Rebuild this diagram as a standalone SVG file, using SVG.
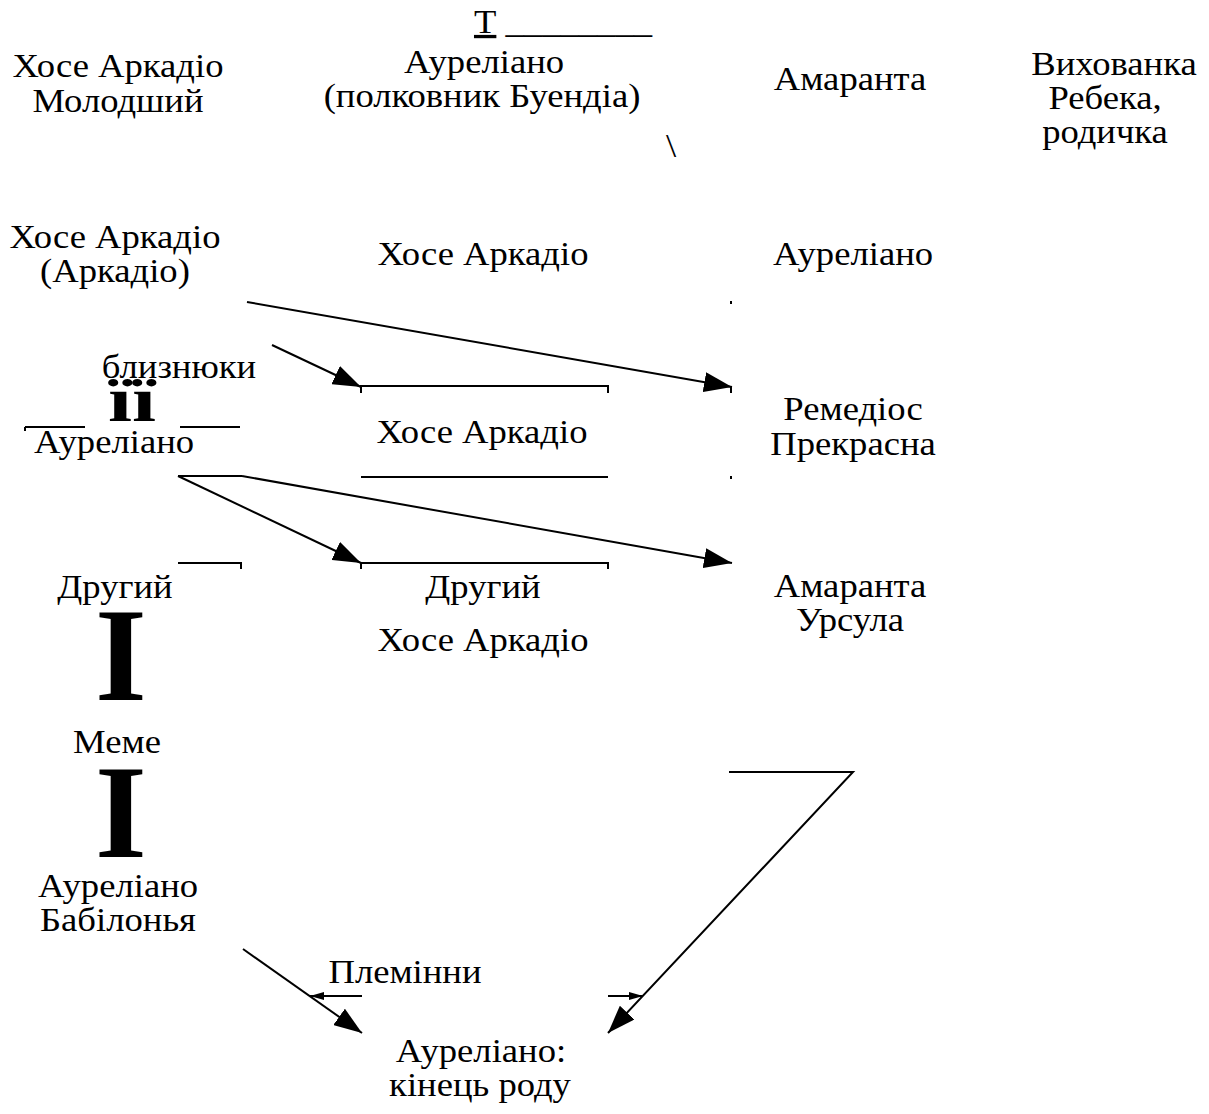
<svg xmlns="http://www.w3.org/2000/svg" width="1209" height="1114" viewBox="0 0 1209 1114">
<style>
  text { font-family: "Liberation Serif", "Times New Roman", serif; font-size: 33px; fill: #000; text-anchor: middle; }
  .big { font-weight: bold; font-size: 133px; }
  .ii { font-weight: bold; font-size: 64px; }
  .ln { stroke: #000; stroke-width: 2; fill: none; }
  .arr { stroke: #000; stroke-width: 2; fill: none; marker-end: url(#ah); }
  .sarr { stroke: #000; stroke-width: 2; fill: none; marker-end: url(#sah); }
</style>
<defs>
  <marker id="ah" viewBox="0 0 28 20" refX="28" refY="10" markerWidth="28" markerHeight="20" markerUnits="userSpaceOnUse" orient="auto">
    <path d="M0,0 L28,10 L0,20 Z" fill="#000"/>
  </marker>
  <marker id="sah" viewBox="0 0 14 8" refX="14" refY="4" markerWidth="14" markerHeight="8" markerUnits="userSpaceOnUse" orient="auto">
    <path d="M0,0 L14,4 L0,8 Z" fill="#000"/>
  </marker>
</defs>

<g id="n-hose-arkadio-molodshyi"><text transform="translate(118,77) scale(1.11,1)">Хосе Аркадіо</text><text transform="translate(118,112) scale(1.11,1)">Молодший</text></g>
<g id="n-t-line"><text transform="translate(563,33) scale(1.11,1)"><tspan text-decoration="underline">Т</tspan> ________</text></g>
<g id="n-aureliano-colonel"><text transform="translate(484,73) scale(1.11,1)">Ауреліано</text><text transform="translate(482,107) scale(1.11,1)">(полковник Буендіа)</text></g>
<g id="n-backslash"><text transform="translate(671,157) scale(1.11,1)">\</text></g>
<g id="n-amaranta-1"><text transform="translate(850,90) scale(1.11,1)">Амаранта</text></g>
<g id="n-rebeka"><text transform="translate(1114,75) scale(1.11,1)">Вихованка</text><text transform="translate(1105,109) scale(1.11,1)">Ребека,</text><text transform="translate(1105,143) scale(1.11,1)">родичка</text></g>

<g id="n-hose-arkadio-arkadio"><text transform="translate(115,248) scale(1.11,1)">Хосе Аркадіо</text><text transform="translate(115,282) scale(1.11,1)">(Аркадіо)</text></g>
<g id="n-hose-arkadio-2"><text transform="translate(483,265) scale(1.11,1)">Хосе Аркадіо</text></g>
<g id="n-aureliano-2"><text transform="translate(853,265) scale(1.11,1)">Ауреліано</text></g>

<g id="n-twins"><text transform="translate(179,378) scale(1.11,1)">близнюки</text><text class="ii" transform="translate(132,421) scale(1.35,1)">ïï</text>
  <path class="ln" d="M25,427 H85 M25,427 V431 M180,427 H240"/></g>
<g id="n-aureliano-3"><text transform="translate(114,453) scale(1.11,1)">Ауреліано</text></g>
<g id="n-hose-arkadio-3"><path class="ln" d="M361,393 V386 H608 V393 M361,477 H608"/><text transform="translate(482,443) scale(1.11,1)">Хосе Аркадіо</text></g>
<g id="n-remedios"><path class="ln" d="M731,301 V304 M731,386 V393 M731,476 V479"/><text transform="translate(853,420) scale(1.11,1)">Ремедіос</text><text transform="translate(853,455) scale(1.11,1)">Прекрасна</text></g>

<g id="n-druhyi-left"><path class="ln" d="M178,563 H241 V569"/><text transform="translate(115,598) scale(1.11,1)">Другий</text></g>
<g id="n-druhyi-hose"><path class="ln" d="M361,569 V563 H608 V569"/><text transform="translate(483,598) scale(1.11,1)">Другий</text><text transform="translate(483,651) scale(1.11,1)">Хосе Аркадіо</text></g>
<g id="n-amaranta-ursula"><text transform="translate(850,597) scale(1.11,1)">Амаранта</text><text transform="translate(850,631) scale(1.11,1)">Урсула</text></g>

<g id="n-line-1"><text class="big" x="121" y="700">I</text></g>
<g id="n-meme"><text transform="translate(117,753) scale(1.11,1)">Меме</text></g>
<g id="n-line-2"><text class="big" x="121" y="857">I</text></g>
<g id="n-aureliano-babilonia"><text transform="translate(118,897) scale(1.11,1)">Ауреліано</text><text transform="translate(118,931) scale(1.11,1)">Бабілонья</text></g>
<g id="n-pleminny"><text transform="translate(405,983) scale(1.11,1)">Племінни</text></g>
<g id="n-aureliano-end"><text transform="translate(481,1062) scale(1.11,1)">Ауреліано:</text><text transform="translate(480,1096) scale(1.11,1)">кінець роду</text></g>

<g id="connectors">
  <line class="arr" x1="247" y1="302" x2="732" y2="387"/>
  <line class="arr" x1="272" y1="345" x2="361" y2="387"/>
  <line class="ln" x1="178" y1="476" x2="242" y2="476"/>
  <line class="arr" x1="178" y1="476" x2="361" y2="563"/>
  <line class="arr" x1="242" y1="476" x2="732" y2="563"/>
  <line class="arr" x1="243" y1="949" x2="362" y2="1033"/>
  <line class="sarr" x1="362" y1="996" x2="310" y2="996"/>
  <polyline class="arr" points="729,772 853,772 608,1033"/>
  <line class="sarr" x1="608" y1="996" x2="643" y2="996"/>
</g>
</svg>
